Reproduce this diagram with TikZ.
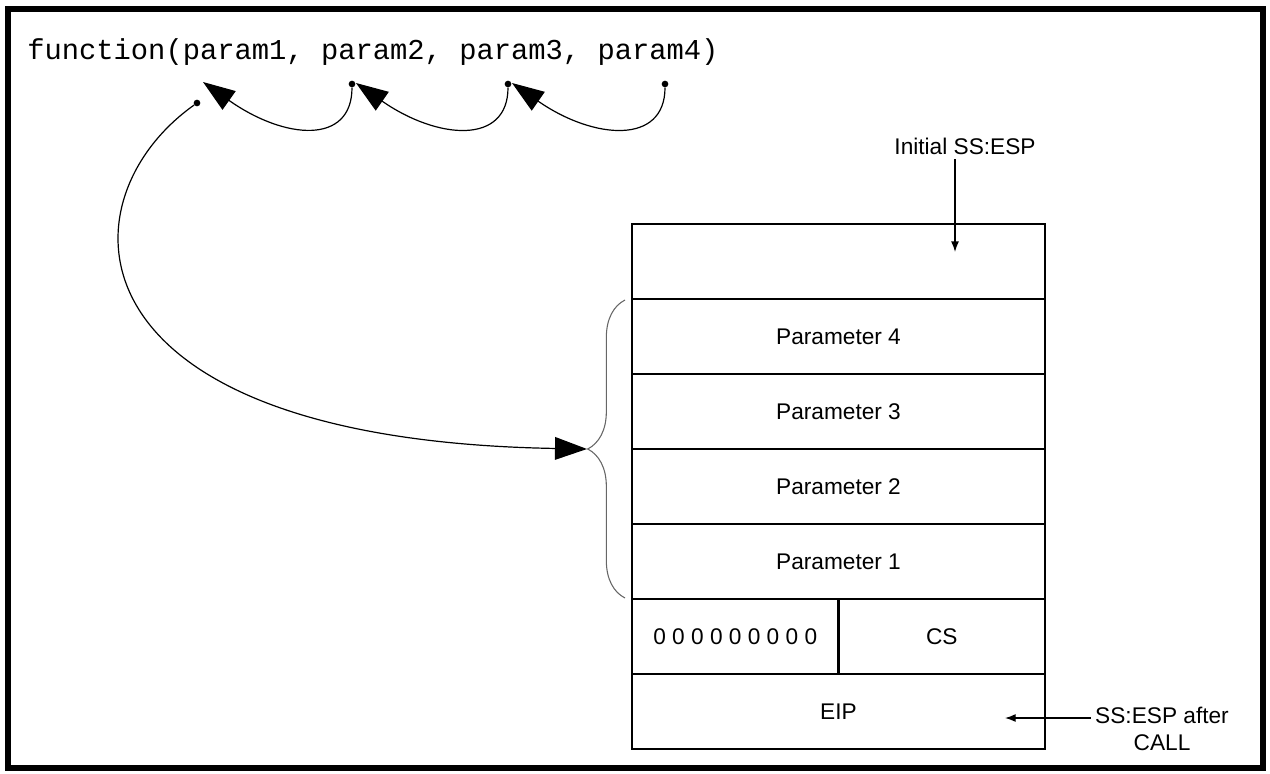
\documentclass[tikz,border=0pt]{standalone}
\usepackage{fontspec}
\setmainfont{Liberation Sans}
\setmonofont{Liberation Mono}
\usetikzlibrary{positioning,arrows.meta,decorations.pathreplacing}
\tikzset{
  cell/.style={draw, line width=2pt, outer sep=0pt, inner sep=0pt,
    minimum width=309.75pt, minimum height=56.25pt, font=\fontsize{17}{20}\selectfont},
  halfcell/.style={cell, minimum width=154.875pt},
  pdot/.style={circle, fill=black, inner sep=0pt, minimum size=5pt},
  bighead/.style={-{Triangle[length=24pt,width=17pt]}, line width=0.9pt},
  lbl/.style={font=\fontsize{17}{20}\selectfont, align=center},
  esparrow/.style={-{Latex[length=8pt,width=6pt]}, line width=1pt},
}

\begin{document}
\begin{tikzpicture}[x=0.75pt, y=-0.75pt]
		%%%%% START %%%%%
		\useasboundingbox (0,0) rectangle (1270,774);
		\draw[line width=4.5pt] (8,9) rectangle (1263,768);
		
		\node[anchor=base west, inner sep=0pt, font=\ttfamily\fontsize{21.6}{24}\selectfont] (fn) at (27,60) {function(param1, param2, param3, param4)};
		
		% the stack
		\node[cell, anchor=north west] (top) at (632,224) {};
		\node[cell, below=0pt of top] (par4) {Parameter 4};
		\node[cell, below=0pt of par4] (par3) {Parameter 3};
		\node[cell, below=0pt of par3] (par2) {Parameter 2};
		\node[cell, below=0pt of par2] (par1) {Parameter 1};
		\node[halfcell, anchor=north west] (zeros) at (par1.south west) {0 0 0 0 0 0 0 0 0};
		\node[halfcell, right=0pt of zeros] (cs) {CS};
		\node[cell, anchor=north west] (eip) at (zeros.south west) {EIP};
		
		% stack pointers
		\node[lbl] (initesp) at (965,146) {Initial SS:ESP};
		\coordinate (espin) at (955,252);
		\draw[esparrow] (initesp.south -| espin) -- (espin);
		
		\node[lbl] (afteresp) at (1162,729) {SS:ESP after\\CALL};
		\coordinate (espout) at (1005,718);
		\draw[esparrow] (afteresp.west |- espout) -- (espout);
		
		% brace round the parameters
		\draw[decorate, decoration={brace, amplitude=28pt}, line width=0.8pt, color=black!60] (625,598) -- (625,300);
		\coordinate (brtip) at (587,449);
		
		% dots under the parameters
		\node[pdot] (d1) at (197,103) {};
		\node[pdot] (d2) at (352,84) {};
		\node[pdot] (d3) at (508,84) {};
		\node[pdot] (d4) at (665,84) {};
		\coordinate (t1) at (203,82);
		\coordinate (t2) at (356,83);
		\coordinate (t3) at (512,83);
		
		\draw[bighead] (d2) .. controls (352,145) and (285,140) .. (t1);
		\draw[bighead] (d3) .. controls (508,145) and (438,140) .. (t2);
		\draw[bighead] (d4) .. controls (665,145) and (594,140) .. (t3);
		\draw[bighead] (d1) .. controls (60,200) and (60,440) .. (brtip);
		%%%%% END %%%%%
\end{tikzpicture}
\end{document}
